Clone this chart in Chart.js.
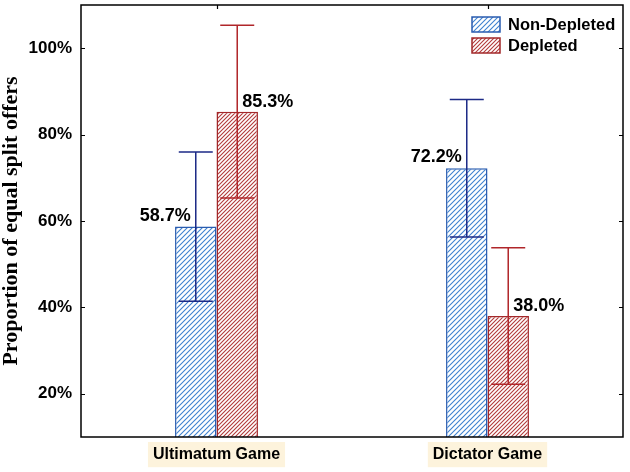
<!DOCTYPE html>
<html>
<head>
<meta charset="utf-8">
<script src="https://cdn.jsdelivr.net/npm/chart.js@4/dist/chart.umd.min.js"></script>
<style>
html,body{margin:0;padding:0;background:#fff;}
#wrap{width:630px;height:472px;}
</style>
</head>
<body>
<div id="wrap"><canvas id="c" width="630" height="472"></canvas></div>
<script>
const categories = ['Ultimatum Game', 'Dictator Game'];
const seriesNames = ['Non-Depleted', 'Depleted'];
const nonDepleted = [58.7, 72.2];
const depleted = [85.3, 38.0];
const nonDepletedErr = [17.3, 15.9];
const depletedErr = [20.0, 15.8];
const yTicks = [20, 40, 60, 80, 100];

const canvas = document.getElementById('c');
const ctx = canvas.getContext('2d');

function makeHatch(color, size) {
  const c = document.createElement('canvas');
  c.width = size; c.height = size;
  const g = c.getContext('2d');
  g.fillStyle = '#ffffff';
  g.fillRect(0, 0, size, size);
  g.strokeStyle = color;
  g.lineWidth = 1.1;
  g.beginPath();
  g.moveTo(-1, size + 1); g.lineTo(size + 1, -1);
  g.moveTo(-1, 1); g.lineTo(1, -1);
  g.moveTo(size - 1, size + 1); g.lineTo(size + 1, size - 1);
  g.stroke();
  return ctx.createPattern(c, 'repeat');
}

const blueHatch = makeHatch('#3f82cf', 5);
const redHatch = makeHatch('#b23a3a', 4);
const blueBorder = '#2a5cb0';
const redBorder = '#a3282a';
const blueErr = '#1c2a86';
const redErr = '#b0262a';

const errors = [nonDepletedErr, depletedErr];
const errColors = [blueErr, redErr];

const framePlugin = {
  id: 'frame',
  afterDatasetsDraw(chart) {
    const c = chart.ctx;
    const a = chart.chartArea;
    const y = chart.scales.y;
    const x = chart.scales.x;
    // error bars
    chart.data.datasets.forEach((ds, di) => {
      const meta = chart.getDatasetMeta(di);
      meta.data.forEach((bar, i) => {
        const v = ds.data[i];
        const e = errors[di][i];
        const top = y.getPixelForValue(v + e);
        const bot = y.getPixelForValue(v - e);
        const cx = bar.x;
        c.save();
        c.strokeStyle = errColors[di];
        c.lineWidth = 1.5;
        c.beginPath();
        c.moveTo(cx, top); c.lineTo(cx, bot);
        c.moveTo(cx - 17, top); c.lineTo(cx + 17, top);
        c.moveTo(cx - 17, bot); c.lineTo(cx + 17, bot);
        c.stroke();
        c.restore();
      });
    });
    // value labels
    chart.data.datasets.forEach((ds, di) => {
      const meta = chart.getDatasetMeta(di);
      meta.data.forEach((bar, i) => {
        const v = ds.data[i];
        c.save();
        c.font = 'bold 18px "Liberation Sans", Arial, sans-serif';
        c.fillStyle = '#000';
        c.textBaseline = 'bottom';
        if (di === 0) {
          c.textAlign = 'right';
          c.fillText(v.toFixed(1) + '%', bar.x - 5, bar.y - 2);
        } else {
          c.textAlign = 'left';
          c.fillText(v.toFixed(1) + '%', bar.x + 5, bar.y - 1);
        }
        c.restore();
      });
    });
    // frame
    c.save();
    c.strokeStyle = '#000';
    c.lineWidth = 1.5;
    c.strokeRect(a.left, a.top, a.right - a.left, a.bottom - a.top);
    c.lineWidth = 1.2;
    c.beginPath();
    yTicks.forEach(t => {
      const py = Math.round(y.getPixelForValue(t)) + 0.5;
      c.moveTo(a.left, py); c.lineTo(a.left + 4, py);
      c.moveTo(a.right, py); c.lineTo(a.right - 4, py);
    });
    categories.forEach((cat, i) => {
      const px = Math.round(x.getPixelForValue(i)) + 0.5;
      c.moveTo(px, a.top); c.lineTo(px, a.top + 4);
    });
    c.stroke();
    c.restore();
    // legend
    c.save();
    const lx = 472, ly = [17, 38];
    const fills = [blueHatch, redHatch];
    const borders = [blueBorder, redBorder];
    c.font = 'bold 16.5px "Liberation Sans", Arial, sans-serif';
    c.textBaseline = 'middle';
    c.textAlign = 'left';
    seriesNames.forEach((name, i) => {
      c.fillStyle = fills[i];
      c.fillRect(lx, ly[i], 28, 15);
      c.strokeStyle = borders[i];
      c.lineWidth = 1.5;
      c.strokeRect(lx, ly[i], 28, 15);
      c.fillStyle = '#000';
      c.fillText(name, lx + 36, ly[i] + 8);
    });
    c.restore();
  }
};

new Chart(ctx, {
  type: 'bar',
  data: {
    labels: categories,
    datasets: [
      {
        label: seriesNames[0],
        data: nonDepleted,
        backgroundColor: blueHatch,
        borderColor: blueBorder,
        borderWidth: 1.5,
        barPercentage: 1.0,
        categoryPercentage: 0.306
      },
      {
        label: seriesNames[1],
        data: depleted,
        backgroundColor: redHatch,
        borderColor: redBorder,
        borderWidth: 1.5,
        barPercentage: 1.0,
        categoryPercentage: 0.306
      }
    ]
  },
  options: {
    responsive: false,
    animation: false,
    devicePixelRatio: 1,
    layout: { padding: { top: 5, right: 7, left: 0, bottom: 0 } },
    plugins: {
      legend: { display: false },
      tooltip: { enabled: false }
    },
    scales: {
      x: {
        grid: { display: false, drawTicks: false },
        border: { display: false },
        ticks: {
          color: '#000',
          font: { family: '"Liberation Sans", Arial, sans-serif', size: 16, weight: 'bold' },
          padding: 8,
          showLabelBackdrop: true,
          backdropColor: '#fdf3dc',
          backdropPadding: { x: 5, y: 3, top: 3, bottom: 3, left: 5, right: 5 }
        },
        afterFit(s) { s.height = 35; s.paddingLeft = 0; s.paddingRight = 0; }
      },
      y: {
        min: 10,
        max: 110,
        grid: { display: false, drawTicks: false },
        border: { display: false },
        afterBuildTicks(s) { s.ticks = yTicks.map(v => ({ value: v })); },
        ticks: {
          color: '#000',
          padding: 9,
          font: { family: '"Liberation Sans", Arial, sans-serif', size: 17, weight: 'bold' },
          callback: v => v + '%'
        },
        title: {
          display: true,
          text: 'Proportion of equal split offers',
          color: '#000',
          font: { family: '"Liberation Serif", "Times New Roman", serif', size: 22, weight: 'bold', lineHeight: 1 },
          padding: { top: 0, bottom: 0 }
        },
        afterFit(s) { s.width = 81; s.paddingTop = 0; s.paddingBottom = 0; }
      }
    }
  },
  plugins: [framePlugin]
});
</script>
</body>
</html>
